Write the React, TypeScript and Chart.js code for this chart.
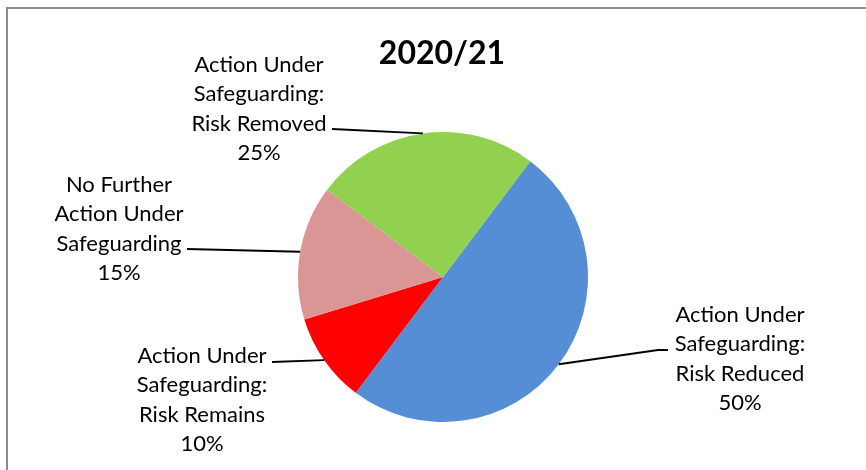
import React, { useEffect, useRef } from "react";
import { Chart, registerables } from "chart.js";

Chart.register(...registerables);

const TITLE = "2020/21";
const CATEGORIES = [
  "Action Under Safeguarding: Risk Reduced",
  "Action Under Safeguarding: Risk Remains",
  "No Further Action Under Safeguarding",
  "Action Under Safeguarding: Risk Removed",
];
const LABEL_LINES = [
  ["Action Under", "Safeguarding:", "Risk Reduced"],
  ["Action Under", "Safeguarding:", "Risk Remains"],
  ["No Further", "Action Under", "Safeguarding"],
  ["Action Under", "Safeguarding:", "Risk Removed"],
];
const VALUES = [50, 10, 15, 25];
const COLORS = ["#558ED5", "#FF0000", "#D99694", "#92D050"];

// label placement (layout only)
const LABEL_LAYOUT = [
  { cx: 740, baseline: 322, ax: 658, ay: 350, tx: 668 },
  { cx: 202, baseline: 363, ax: 272, ay: 362 },
  { cx: 119, baseline: 192, ax: 187, ay: 249 },
  { cx: 259, baseline: 72, ax: 332, ay: 129 },
];
const LINE_GAP = 29.3;
const LABEL_FONT = "22px Lato";
const TITLE_FONT = "bold 32px Lato";

const decorPlugin = {
  id: "decor",
  beforeDraw(chart: any) {
    const ctx = chart.ctx;
    ctx.save();
    ctx.fillStyle = "#ffffff";
    ctx.fillRect(0, 0, chart.width, chart.height);
    ctx.fillStyle = "#8c8c8c";
    ctx.fillRect(6, 7, chart.width - 6, 2);
    ctx.fillRect(6, 7, 2, chart.height - 7);
    ctx.restore();
  },
  afterDatasetsDraw(chart: any) {
    const ctx = chart.ctx;
    const meta = chart.getDatasetMeta(0);
    const total = VALUES.reduce((a, b) => a + b, 0);
    ctx.save();
    meta.data.forEach((arc: any, i: number) => {
      const p = arc.getProps(["x", "y", "startAngle", "endAngle", "outerRadius"], true);
      const mid = (p.startAngle + p.endAngle) / 2;
      const px = p.x + Math.cos(mid) * p.outerRadius;
      const py = p.y + Math.sin(mid) * p.outerRadius;
      const L: any = LABEL_LAYOUT[i];
      ctx.strokeStyle = "#000000";
      ctx.lineWidth = 1.9;
      ctx.beginPath();
      ctx.moveTo(px, py);
      ctx.lineTo(L.ax, L.ay);
      if (L.tx !== undefined) ctx.lineTo(L.tx, L.ay);
      ctx.stroke();

      ctx.fillStyle = "#000000";
      ctx.font = LABEL_FONT;
      ctx.textAlign = "center";
      ctx.textBaseline = "alphabetic";
      const lines = [...LABEL_LINES[i], Math.round((VALUES[i] / total) * 100) + "%"];
      lines.forEach((t, k) => {
        ctx.fillText(t, L.cx, L.baseline + k * LINE_GAP);
      });
    });
    ctx.font = TITLE_FONT;
    ctx.fillStyle = "#000000";
    ctx.textAlign = "center";
    ctx.textBaseline = "alphabetic";
    ctx.fillText(TITLE, 442, 64);
    ctx.restore();
  },
};

export default function App() {
  const canvasRef = useRef<HTMLCanvasElement | null>(null);

  useEffect(() => {
    if (!canvasRef.current) return;
    const chart = new Chart(canvasRef.current, {
      type: "pie",
      data: {
        labels: CATEGORIES,
        datasets: [
          {
            data: VALUES,
            backgroundColor: COLORS,
            borderWidth: 0,
          },
        ],
      },
      options: {
        responsive: false,
        animation: false,
        rotation: 37,
        layout: { padding: { left: 298, right: 278, top: 132, bottom: 48 } },
        plugins: {
          legend: { display: false },
          tooltip: { enabled: false },
          title: { display: false },
        },
      },
      plugins: [decorPlugin],
    });
    return () => chart.destroy();
  }, []);

  return (
    <div style={{ position: "absolute", left: 0, top: 0, width: 866, height: 470, background: "#fff" }}>
      <canvas ref={canvasRef} width={866} height={470} />
    </div>
  );
}
